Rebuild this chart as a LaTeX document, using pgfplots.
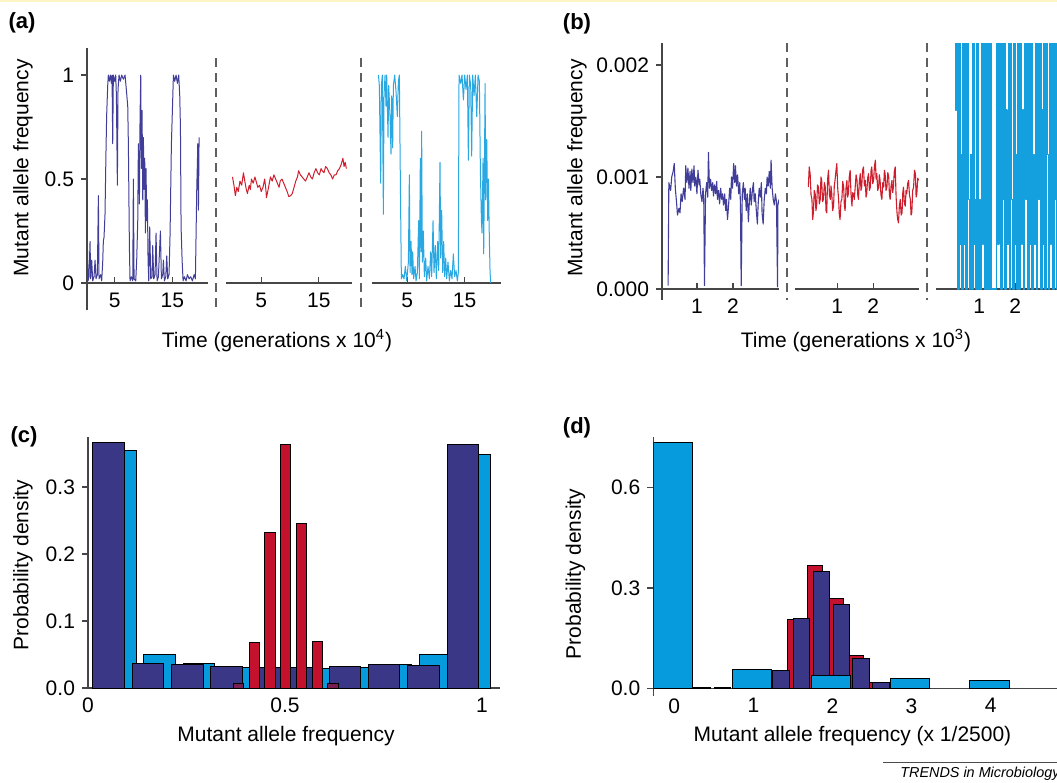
\documentclass[border=0pt]{standalone}
\usepackage{fontspec}
\setmainfont{Liberation Sans}
\usepackage{pgfplots}
\pgfplotsset{compat=1.18}
\definecolor{navy}{RGB}{58,56,134}
\definecolor{navyline}{RGB}{64,62,152}
\definecolor{sky}{RGB}{6,155,220}
\definecolor{skyline}{RGB}{42,168,226}
\definecolor{skydense}{RGB}{20,160,222}
\definecolor{crim}{RGB}{196,18,46}
\definecolor{crimline}{RGB}{206,30,45}
\definecolor{maroon}{RGB}{120,30,80}
\definecolor{axgray}{RGB}{70,70,70}
\definecolor{dashgray}{RGB}{95,95,95}
\definecolor{topband}{RGB}{253,246,196}
\newcommand{\lbl}{\fontsize{10.5}{12}\selectfont}

\pgfplotsset{
  every non boxed x axis/.append style={x axis line style={-}, xtick align=inside},
  every non boxed y axis/.append style={y axis line style={-}, ytick align=outside},
  base/.style={
    scale only axis, clip=true,
    axis line style={draw=axgray, line width=0.7pt},
    tick style={draw=axgray, line width=0.6pt},
    major tick length=3pt,
    tick label style={font=\lbl, text=black},
    xticklabel style={yshift=-1.5pt},
    /pgf/number format/assume math mode=true,
    hide obscured x ticks=false, hide obscured y ticks=false,
    anchor=south west,
  },
  trace/.style={base, axis x line=middle},
  noy/.style={axis y line=none, ytick=\empty},
  tr/.style={line width=0.5pt, mark=none, line join=round},
  hbar/.style={ybar, bar shift=0pt, draw=black, line width=0.5pt},
}

\begin{document}
\begin{tikzpicture}
\useasboundingbox (0pt,0pt) rectangle (528.5pt,-391.5pt);
\fill[topband] (0pt,0pt) rectangle (528.5pt,-1.2pt);

% ---------------- (a) ----------------
\begin{axis}[trace, axis y line=left, at={(43.5pt,-155pt)}, width=60.5pt, height=131pt,
  xmin=0.17, xmax=21.2, ymin=-0.13, ymax=1.13,
  xtick={5,15}, xticklabels={5,15}, ytick={0,0.5,1}, yticklabels={0,0.5,1}]
\addplot[tr, navyline] coordinates {
 (0.12,0.02) (0.23,0.2) (0.35,0.01) (0.52,0.03) (0.70,0.2) (0.81,0.02) (0.99,0.11)
 (1.16,0.01) (1.39,0.03) (1.57,0.11) (1.74,0.02) (1.97,0.04) (2.15,0.42) (2.26,0.02)
 (2.55,0.04) (2.72,0.01) (2.90,0.1) (3.01,0.2) (3.13,0.22) (3.30,0.33) (3.48,0.65)
 (3.59,0.81) (3.77,0.95) (3.88,1.0) (4.06,0.97) (4.23,1.0) (4.41,0.96) (4.52,1.0)
 (4.64,0.67) (4.75,1.0) (4.99,0.97) (5.16,1.0) (5.28,0.9) (5.45,0.47) (5.56,0.93)
 (5.74,1.0) (5.97,0.97) (6.20,1.0) (6.49,0.98) (6.78,1.0) (7.07,0.91) (7.25,0.85)
 (7.36,0.67) (7.54,0.17) (7.65,0.01) (7.88,0.03) (8.12,0.01) (8.23,0.5) (8.35,0.02)
 (8.64,0.01) (8.81,0.11) (8.99,0.3) (9.10,0.67) (9.28,0.38) (9.39,0.8) (9.51,1.0)
 (9.62,0.55) (9.74,0.83) (9.86,0.4) (9.97,0.7) (10.09,0.45) (10.20,0.6) (10.32,0.24)
 (10.43,0.55) (10.55,0.3) (10.67,0.4) (10.78,0.11) (10.90,0.01) (11.07,0.27) (11.25,0.02)
 (11.48,0.03) (11.59,0.18) (11.77,0.02) (12.00,0.04) (12.17,0.24) (12.35,0.01) (12.58,0.03)
 (12.75,0.14) (12.93,0.25) (13.10,0.02) (13.33,0.04) (13.45,0.11) (13.62,0.01) (13.86,0.03)
 (14.03,0.13) (14.20,0.02) (14.43,0.04) (14.61,0.24) (14.72,0.45) (14.84,0.67) (15.01,0.83)
 (15.19,1.0) (15.42,0.97) (15.65,1.0) (15.88,0.96) (16.11,1.0) (16.29,0.9) (16.41,0.75)
 (16.52,0.27) (16.70,0.11) (16.87,0.01) (17.10,0.03) (17.39,0.01) (17.62,0.04) (17.91,0.02)
 (18.20,0.03) (18.49,0.01) (18.78,0.04) (19.01,0.02) (19.13,0.24) (19.25,0.46) (19.36,0.58)
 (19.42,0.67) (19.54,0.35) (19.65,0.7)
};
\end{axis}

\begin{axis}[trace, noy, at={(113pt,-155pt)}, width=63pt, height=131pt,
  xmin=-1.13, xmax=20.78, ymin=-0.13, ymax=1.13,
  xtick={5,15}, xticklabels={5,15}]
\addplot[tr, crimline] coordinates {
 (0,0.51) (0.25,0.47) (0.5,0.42) (0.75,0.46) (1.0,0.44) (1.3,0.49) (1.6,0.47) (1.9,0.53)
 (2.2,0.48) (2.4,0.45) (2.6,0.43) (2.9,0.47) (3.1,0.45) (3.3,0.5) (3.6,0.48) (3.9,0.51)
 (4.1,0.49) (4.4,0.46) (4.7,0.47) (5.0,0.44) (5.3,0.46) (5.6,0.5) (5.8,0.45) (5.9,0.41)
 (6.2,0.45) (6.4,0.48) (6.6,0.51) (6.9,0.49) (7.2,0.52) (7.5,0.5) (7.8,0.48) (8.1,0.46)
 (8.3,0.49) (8.6,0.5) (8.9,0.48) (9.2,0.46) (9.5,0.44) (9.8,0.415) (10.1,0.42) (10.4,0.43)
 (10.7,0.46) (11.0,0.49) (11.3,0.51) (11.5,0.54) (11.8,0.52) (12.1,0.51) (12.4,0.5) (12.7,0.49)
 (13.0,0.51) (13.3,0.53) (13.6,0.51) (13.9,0.5) (14.2,0.53) (14.5,0.55) (14.8,0.53) (15.1,0.52)
 (15.4,0.55) (15.6,0.54) (15.9,0.53) (16.2,0.56) (16.5,0.55) (16.8,0.53) (17.1,0.52) (17.4,0.5)
 (17.7,0.52) (18.0,0.52) (18.3,0.54) (18.6,0.55) (18.9,0.57) (19.2,0.6) (19.4,0.56) (19.6,0.58)
 (19.8,0.55)
};
\end{axis}

\begin{axis}[trace, noy, at={(185.85pt,-155pt)}, width=64.65pt, height=131pt,
  xmin=-1.17, xmax=21.32, ymin=-0.13, ymax=1.13,
  xtick={5,15}, xticklabels={5,15}]
\addplot[tr, skyline] coordinates {
 (0.0,1.0) (0.16,0.95) (0.39,0.48) (0.51,0.95) (0.68,1.0) (0.86,0.33) (0.97,0.9) (1.15,1.0)
 (1.32,0.85) (1.44,1.0) (1.67,0.7) (1.79,0.95) (2.02,0.8) (2.19,0.62) (2.31,0.9) (2.48,0.65)
 (2.60,0.95) (2.83,1.0) (3.06,0.92) (3.29,0.8) (3.47,0.97) (3.64,1.0) (3.81,0.5) (3.99,0.02)
 (4.22,0.04) (4.45,0.02) (4.68,0.08) (4.92,0.01) (5.21,0.1) (5.38,0.52) (5.50,0.05) (5.67,0.2)
 (5.84,0.04) (5.96,0.15) (6.13,0.02) (6.37,0.08) (6.54,0.01) (6.77,0.05) (7.00,0.3) (7.12,0.02)
 (7.29,0.6) (7.41,0.15) (7.52,0.73) (7.64,0.1) (7.81,0.25) (7.99,0.03) (8.22,0.12) (8.39,0.01)
 (8.63,0.08) (8.86,0.02) (9.09,0.15) (9.26,0.03) (9.50,0.3) (9.67,0.05) (9.90,0.18) (10.07,0.02)
 (10.31,0.2) (10.48,0.06) (10.71,0.58) (10.83,0.12) (11.00,0.35) (11.18,0.05) (11.35,0.2)
 (11.52,0.03) (11.70,0.12) (11.87,0.02) (12.10,0.1) (12.34,0.01) (12.57,0.06) (12.80,0.02)
 (13.03,0.14) (13.26,0.03) (13.50,0.06) (13.73,0.01) (13.90,0.05) (14.02,1.0) (14.31,0.96)
 (14.54,1.0) (14.78,0.88) (15.01,1.0) (15.24,0.93) (15.47,1.0) (15.65,0.59) (15.82,1.0)
 (16.05,0.95) (16.22,0.61) (16.40,1.0) (16.63,0.9) (16.86,1.0) (17.10,0.8) (17.33,1.0)
 (17.56,0.97) (17.73,0.55) (17.91,0.3) (18.02,0.24) (18.20,0.6) (18.31,0.14) (18.43,0.5)
 (18.55,0.96) (18.66,0.4) (18.84,0.69) (19.01,0.3) (19.13,0.5) (19.30,0.2) (19.42,0.05)
 (19.53,0.0)
};
\end{axis}

\draw[dashgray, line width=0.7pt, dash pattern=on 4.5pt off 3pt] (108pt,-29pt) -- (108pt,-155pt);
\draw[dashgray, line width=0.7pt, dash pattern=on 4.5pt off 3pt] (180.5pt,-29pt) -- (180.5pt,-155pt);

\node[font=\fontsize{11}{13}\selectfont\bfseries] at (11pt,-11.5pt) {(a)};
\node[font=\lbl, rotate=90] at (11.5pt,-84pt) {Mutant allele frequency};
\node[font=\lbl] at (138.5pt,-170.5pt) {Time (generations x 10\textsuperscript{4})};

% ---------------- (b) ----------------
\begin{axis}[trace, axis y line=left, at={(331pt,-150pt)}, width=58.5pt, height=128.5pt,
  xmin=0.03, xmax=3.28, ymin=-0.098, ymax=2.196,
  xtick={1,2}, xticklabels={1,2}, ytick={0,1,2}, yticklabels={0.000,0.001,0.002}]
\addplot[tr, navyline, line width=0.55pt] coordinates {
 (0.20,0.03) (0.22,0.95) (0.27,0.88) (0.30,1.0) (0.34,1.05) (0.37,1.12) (0.40,0.9) (0.44,0.75)
 (0.46,0.66) (0.50,0.72) (0.53,0.68) (0.56,0.85) (0.59,0.78) (0.63,0.9) (0.67,0.8) (0.69,1.1)
 (0.72,0.95) (0.75,1.08) (0.78,0.9) (0.81,1.05) (0.83,0.88) (0.86,1.07) (0.89,0.95) (0.92,1.1)
 (0.94,0.92) (0.97,1.0) (1.00,0.85) (1.03,1.06) (1.06,0.93) (1.08,0.98) (1.11,0.84) (1.14,0.78)
 (1.17,0.9) (1.19,0.8) (1.21,0.03) (1.24,0.85) (1.27,0.95) (1.30,0.82) (1.32,1.22) (1.35,0.9)
 (1.38,0.98) (1.41,0.88) (1.44,0.95) (1.46,0.83) (1.49,0.93) (1.52,0.85) (1.55,0.96) (1.57,0.8)
 (1.60,0.88) (1.63,0.76) (1.66,0.9) (1.69,0.8) (1.71,0.85) (1.74,0.75) (1.77,0.85) (1.80,0.7)
 (1.82,0.8) (1.85,0.62) (1.88,0.75) (1.91,0.9) (1.94,0.8) (1.96,1.0) (1.99,0.9) (2.02,1.12)
 (2.05,0.95) (2.07,1.1) (2.10,0.92) (2.13,1.02) (2.16,0.85) (2.19,0.95) (2.21,0.75) (2.23,0.03)
 (2.26,0.85) (2.29,0.95) (2.32,0.8) (2.34,0.9) (2.37,0.7) (2.40,0.85) (2.43,0.6) (2.46,0.8)
 (2.48,0.9) (2.51,0.75) (2.54,0.88) (2.57,0.95) (2.59,0.78) (2.62,0.85) (2.65,0.7) (2.68,0.58)
 (2.70,0.75) (2.73,0.9) (2.76,0.82) (2.79,0.95) (2.81,0.68) (2.84,0.58) (2.87,0.8) (2.90,0.9)
 (2.93,0.85) (2.95,1.0) (2.98,0.92) (3.01,1.05) (3.04,0.9) (3.06,1.15) (3.09,0.9) (3.12,0.8)
 (3.15,0.75) (3.18,0.85) (3.21,0.78) (3.24,0.02) (3.25,0.75) (3.28,0.8)
};
\end{axis}

\begin{axis}[trace, noy, at={(397.5pt,-150pt)}, width=62pt, height=128.5pt,
  xmin=-0.17, xmax=3.27, ymin=-0.098, ymax=2.196,
  xtick={1,2}, xticklabels={1,2}]
\addplot[tr, crimline, line width=0.55pt] coordinates {
 (0.20,0.91) (0.225,1.09) (0.25,1.03) (0.275,0.84) (0.30,0.80) (0.32,0.62) (0.34,0.68)
 (0.365,0.88) (0.39,0.85) (0.41,0.70) (0.43,0.74) (0.455,0.93) (0.48,0.91) (0.505,0.76)
 (0.53,0.80) (0.55,1.0) (0.57,0.97) (0.595,0.78) (0.62,0.80) (0.645,0.95) (0.67,0.91)
 (0.69,0.70) (0.71,0.68) (0.735,0.98) (0.76,1.06) (0.785,0.84) (0.81,0.80) (0.83,0.92)
 (0.85,0.85) (0.875,0.70) (0.90,0.74) (0.92,0.92) (0.94,0.97) (0.965,1.05) (0.99,1.12)
 (1.015,0.90) (1.04,0.80) (1.06,0.66) (1.08,0.62) (1.105,0.78) (1.13,0.80) (1.155,0.96)
 (1.18,0.91) (1.20,0.74) (1.22,0.70) (1.245,0.90) (1.27,0.97) (1.29,0.82) (1.31,0.85)
 (1.335,1.0) (1.36,1.06) (1.385,0.84) (1.41,0.74) (1.43,0.86) (1.45,0.85) (1.475,0.80)
 (1.50,0.91) (1.525,1.02) (1.55,0.97) (1.57,0.84) (1.59,0.80) (1.615,0.96) (1.64,1.03)
 (1.66,0.88) (1.68,0.91) (1.705,1.06) (1.73,1.09) (1.755,0.92) (1.78,0.97) (1.80,0.82)
 (1.82,0.85) (1.845,0.99) (1.87,1.03) (1.895,0.88) (1.92,0.91) (1.94,1.06) (1.96,1.09)
 (1.985,0.94) (2.01,0.97) (2.035,1.10) (2.06,1.15) (2.08,0.98) (2.10,1.03) (2.125,0.88)
 (2.15,0.91) (2.17,1.02) (2.19,0.97) (2.215,0.84) (2.24,0.80) (2.265,0.95) (2.29,0.91)
 (2.31,1.06) (2.33,1.03) (2.355,0.88) (2.38,0.91) (2.405,1.04) (2.43,1.00) (2.45,0.84)
 (2.47,0.80) (2.495,0.92) (2.52,0.97) (2.54,0.86) (2.56,0.91) (2.585,1.05) (2.61,1.09)
 (2.635,0.82) (2.66,0.68) (2.68,0.62) (2.70,0.59) (2.725,0.74) (2.75,0.80) (2.775,0.66)
 (2.80,0.68) (2.82,0.86) (2.84,0.91) (2.865,0.76) (2.89,0.74) (2.91,0.88) (2.93,0.85)
 (2.955,0.94) (2.98,0.97) (3.005,0.84) (3.03,0.80) (3.05,0.66) (3.07,0.68) (3.095,0.88)
 (3.12,0.91) (3.145,1.06) (3.17,1.03) (3.19,0.82) (3.21,0.85) (3.235,0.99) (3.26,0.97)
};
\end{axis}

\begin{axis}[trace, noy, at={(468pt,-150pt)}, width=60.5pt, height=128.5pt,
  xmin=-0.2, xmax=3.16, ymin=-0.098, ymax=2.196,
  xtick={1,2}, xticklabels={1,2}]
\addplot[tr, skydense, line width=0.85pt, const plot] coordinates {
 (0.31,2.4) (0.34,1.6) (0.37,2.4) (0.40,0) (0.43,2.4) (0.46,0.4) (0.49,1.2) (0.52,0) (0.55,2.4)
 (0.58,0.4) (0.61,2.4) (0.64,0) (0.67,2.4) (0.70,0.8) (0.73,0) (0.76,1.2) (0.79,0) (0.82,2.4)
 (0.85,0.4) (0.88,0.8) (0.91,0) (0.94,2.4) (0.97,0) (1.00,0.8) (1.03,0) (1.06,2.4) (1.09,0.4)
 (1.12,2.4) (1.15,0) (1.18,2.4) (1.21,0) (1.24,2.4) (1.27,0) (1.30,2.4) (1.33,0) (1.36,0)
 (1.39,0) (1.42,0) (1.45,0) (1.48,2.4) (1.51,0.4) (1.54,2.4) (1.57,1.2) (1.60,0) (1.63,2.4)
 (1.66,0.8) (1.69,2.4) (1.72,0) (1.75,1.6) (1.78,0.4) (1.81,2.4) (1.84,0) (1.87,2.4) (1.90,0.8)
 (1.93,0) (1.96,2.4) (1.99,0.4) (2.02,1.2) (2.05,0) (2.08,2.4) (2.11,0) (2.14,2.4) (2.17,0.4)
 (2.20,1.6) (2.23,0) (2.26,2.4) (2.29,0.8) (2.32,2.4) (2.35,0) (2.38,2.4) (2.41,0.4) (2.44,2.4)
 (2.47,0) (2.50,1.2) (2.53,0.4) (2.56,2.4) (2.59,0) (2.62,2.4) (2.65,0.8) (2.68,2.4) (2.71,0)
 (2.74,1.6) (2.77,0.4) (2.80,2.4) (2.83,0) (2.86,2.4) (2.89,1.2) (2.92,0) (2.95,2.4) (2.98,0.4)
 (3.01,2.4) (3.04,0) (3.07,2.4) (3.10,0.8) (3.13,2.4) (3.16,0) (3.19,2.4)
};
\end{axis}

\draw[dashgray, line width=0.7pt, dash pattern=on 4.5pt off 3pt] (393.5pt,-21.5pt) -- (393.5pt,-150pt);
\draw[dashgray, line width=0.7pt, dash pattern=on 4.5pt off 3pt] (463.5pt,-21.5pt) -- (463.5pt,-150pt);

\node[font=\fontsize{11}{13}\selectfont\bfseries] at (288.5pt,-12pt) {(b)};
\node[font=\lbl, rotate=90] at (288.5pt,-84pt) {Mutant allele frequency};
\node[font=\lbl] at (428pt,-170.5pt) {Time (generations x 10\textsuperscript{3})};

% ---------------- (c) ----------------
\begin{axis}[base, axis x line=bottom, axis y line=left, at={(44pt,-344pt)}, width=206pt, height=125.5pt,
  xmin=0, xmax=1.046, ymin=0, ymax=0.3746,
  xtick={0,0.5,1}, xticklabels={0,0.5,1},
  ytick={0,0.1,0.2,0.3}, yticklabels={0.0,0.1,0.2,0.3}]
\addplot[hbar, bar width=0.08, fill=sky] coordinates {
 (0.082,0.355) (0.182,0.050) (0.282,0.037) (0.382,0.030) (0.482,0.030)
 (0.582,0.029) (0.682,0.030) (0.782,0.035) (0.882,0.050) (0.982,0.349)
};
\addplot[hbar, bar width=0.08, fill=navy] coordinates {
 (0.052,0.366) (0.152,0.036) (0.252,0.035) (0.352,0.032) (0.452,0.030)
 (0.552,0.030) (0.652,0.032) (0.752,0.035) (0.852,0.034) (0.952,0.363)
};
\addplot[hbar, bar width=0.026, fill=crim] coordinates {
 (0.423,0.068) (0.462,0.232) (0.502,0.364) (0.542,0.246) (0.582,0.069)
};
\addplot[hbar, bar width=0.026, fill=maroon] coordinates {
 (0.383,0.007) (0.622,0.007)
};
\end{axis}

\node[font=\fontsize{11}{13}\selectfont\bfseries] at (12pt,-218.5pt) {(c)};
\node[font=\lbl, rotate=90] at (11.5pt,-282.5pt) {Probability density};
\node[font=\lbl] at (143pt,-368pt) {Mutant allele frequency};

% ---------------- (d) ----------------
\begin{axis}[trace, axis y line=left, at={(326.65pt,-348pt)}, width=201.85pt, height=129.65pt,
  xmin=-0.265, xmax=4.839, ymin=-0.023, ymax=0.7526,
  xtick={0,1,2,3,4}, xticklabels={0,1,2,3,4},
  ytick={0,0.3,0.6}, yticklabels={0.0,0.3,0.6}]
\addplot[hbar, bar width=0.2, fill=crim] coordinates {
 (1.53,0.206) (1.78,0.366) (2.04,0.269) (2.29,0.097) (2.55,0.017)
};
\addplot[hbar, bar width=0.205, fill=navy] coordinates {
 (1.35,0.053) (1.607,0.209) (1.86,0.349) (2.11,0.252) (2.36,0.090) (2.615,0.017)
 (0.35,0.003) (0.605,0.003)
};
\addplot[hbar, bar width=0.495, fill=sky] coordinates {
 (-0.015,0.735) (0.985,0.057) (1.985,0.037) (2.985,0.028) (3.985,0.022)
};
\end{axis}

\node[font=\fontsize{11}{13}\selectfont\bfseries] at (288.5pt,-214pt) {(d)};
\node[font=\lbl, rotate=90] at (287.75pt,-287pt) {Probability density};
\node[font=\lbl] at (426.25pt,-368pt) {Mutant allele frequency (x 1/2500)};

\draw[black!70, line width=0.4pt] (441.5pt,-381.3pt) -- (528.5pt,-381.3pt);
\node[font=\fontsize{7.2}{8}\selectfont\itshape, anchor=east, inner sep=0pt] at (530pt,-387pt) {TRENDS in Microbiology};
\end{tikzpicture}
\end{document}
